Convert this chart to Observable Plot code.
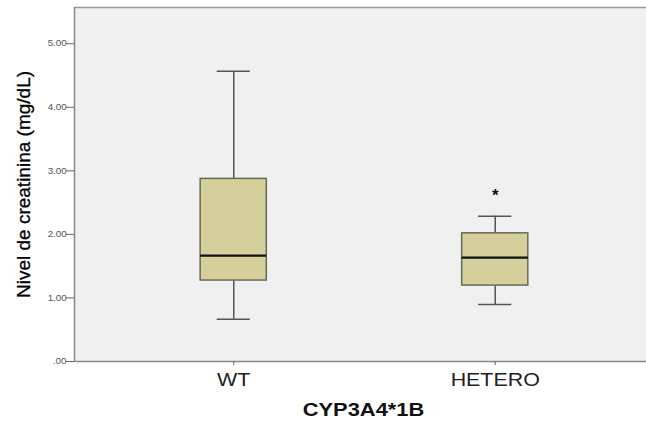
<!DOCTYPE html>
<html>
<head>
<meta charset="utf-8">
<script src="https://cdn.jsdelivr.net/npm/d3@7"></script>
<script src="https://cdn.jsdelivr.net/npm/@observablehq/plot@0.6"></script>
<style>
  html, body { margin: 0; padding: 0; background: #ffffff; }
  svg { display: block; }
</style>
</head>
<body>
<div id="chart"></div>
<script>
// Data
const groups = ["WT", "HETERO"];
const groupPos = [0, 1];
const whiskerLow = [0.665, 0.896];
const q1 = [1.274, 1.195];
const median = [1.667, 1.635];
const q3 = [2.873, 2.017];
const whiskerHigh = [4.565, 2.285];
const outlierGroup = [1];
const outlierValue = [2.66];
const yTicks = [0, 1, 2, 3, 4, 5];
const yMax = 5.57;
const xDomain = [-0.609, 1.5785];
const yTitle = "Nivel de creatinina (mg/dL)";
const xTitle = "CYP3A4*1B";

const boxes = groups.map((g, i) => ({
  g, x: groupPos[i], lo: whiskerLow[i], q1: q1[i], med: median[i], q3: q3[i], hi: whiskerHigh[i]
}));
const outliers = outlierGroup.map((x, i) => ({x, v: outlierValue[i]}));

const font = "'Liberation Sans', Arial, sans-serif";
const boxHalf = 0.1265;
const capHalf = 0.0635;

const chart = Plot.plot({
  width: 646,
  height: 423,
  marginLeft: 74,
  marginRight: 0,
  marginTop: 7,
  marginBottom: 62,
  style: { fontFamily: font, background: "#ffffff" },
  x: { type: "linear", domain: xDomain, range: [74, 646] },
  y: { domain: [0, yMax] },
  marks: [
    Plot.frame({ fill: "#f0f0f0", stroke: "none" }),
    Plot.ruleY([yMax], { stroke: "#999", strokeWidth: 1.5 }),
    Plot.ruleY([0], { stroke: "#888", strokeWidth: 1.5 }),
    Plot.ruleX([xDomain[0]], { stroke: "#888", strokeWidth: 1.5 }),
    Plot.axisY({
      ticks: yTicks, tickSize: 8, tickPadding: 1, fontSize: 8.5,
      tickFormat: d => d === 0 ? ".00" : d.toFixed(2),
      label: null, color: "#555", stroke: "#666"
    }),
    Plot.axisX({
      ticks: groupPos, tickSize: 4, tickPadding: 8, fontSize: 18,
      tickFormat: d => groups[d], label: null, color: "#222", stroke: "#666"
    }),
    // whiskers
    Plot.ruleX(boxes, { x: "x", y1: "q3", y2: "hi", stroke: "#555", strokeWidth: 1.5 }),
    Plot.ruleX(boxes, { x: "x", y1: "lo", y2: "q1", stroke: "#555", strokeWidth: 1.5 }),
    Plot.ruleY(boxes, { y: "hi", x1: d => d.x - capHalf, x2: d => d.x + capHalf, stroke: "#555", strokeWidth: 1.5 }),
    Plot.ruleY(boxes, { y: "lo", x1: d => d.x - capHalf, x2: d => d.x + capHalf, stroke: "#555", strokeWidth: 1.5 }),
    // boxes
    Plot.rect(boxes, { x1: d => d.x - boxHalf, x2: d => d.x + boxHalf, y1: "q1", y2: "q3",
      fill: "#d4cf9b", stroke: "#6a6a5a", strokeWidth: 1.5 }),
    Plot.ruleY(boxes, { y: "med", x1: d => d.x - boxHalf, x2: d => d.x + boxHalf, stroke: "#111", strokeWidth: 2.2 }),
    // outliers
    Plot.text(outliers, { x: "x", y: "v", text: () => "*", fontSize: 17, fontWeight: "bold", fill: "#111", dy: 3 }),
    // titles
    Plot.text([yTitle], { frameAnchor: "left", textAnchor: "middle", lineAnchor: "middle",
      rotate: -90, dx: -51, fontSize: 19, fill: "#000", stroke: "#000", strokeWidth: 0.3, text: d => d }),
    Plot.text([xTitle], { frameAnchor: "bottom", textAnchor: "middle", lineAnchor: "middle",
      dy: 49, dx: 3, fontSize: 17.5, fontWeight: "bold", fill: "#111", text: d => d })
  ]
});
document.getElementById("chart").appendChild(chart);

// The reference's text is stretched horizontally; mimic that
function stretchEl(el, s) {
  const bb = el.getBBox();
  const cx = bb.x + bb.width / 2;
  const t = el.getAttribute("transform") || "";
  el.setAttribute("transform", `${t} translate(${cx},0) scale(${s},1) translate(${-cx},0)`);
}
d3.select(chart).selectAll("g[aria-label='x-axis tick label'] text").each(function () { stretchEl(this, 1.19); });
d3.select(chart).selectAll("g[aria-label='y-axis tick label'] text").each(function () { stretchEl(this, 1.16); });
d3.select(chart).selectAll("text").each(function () {
  if (this.textContent === xTitle) stretchEl(this, 1.25);
});
</script>
</body>
</html>
